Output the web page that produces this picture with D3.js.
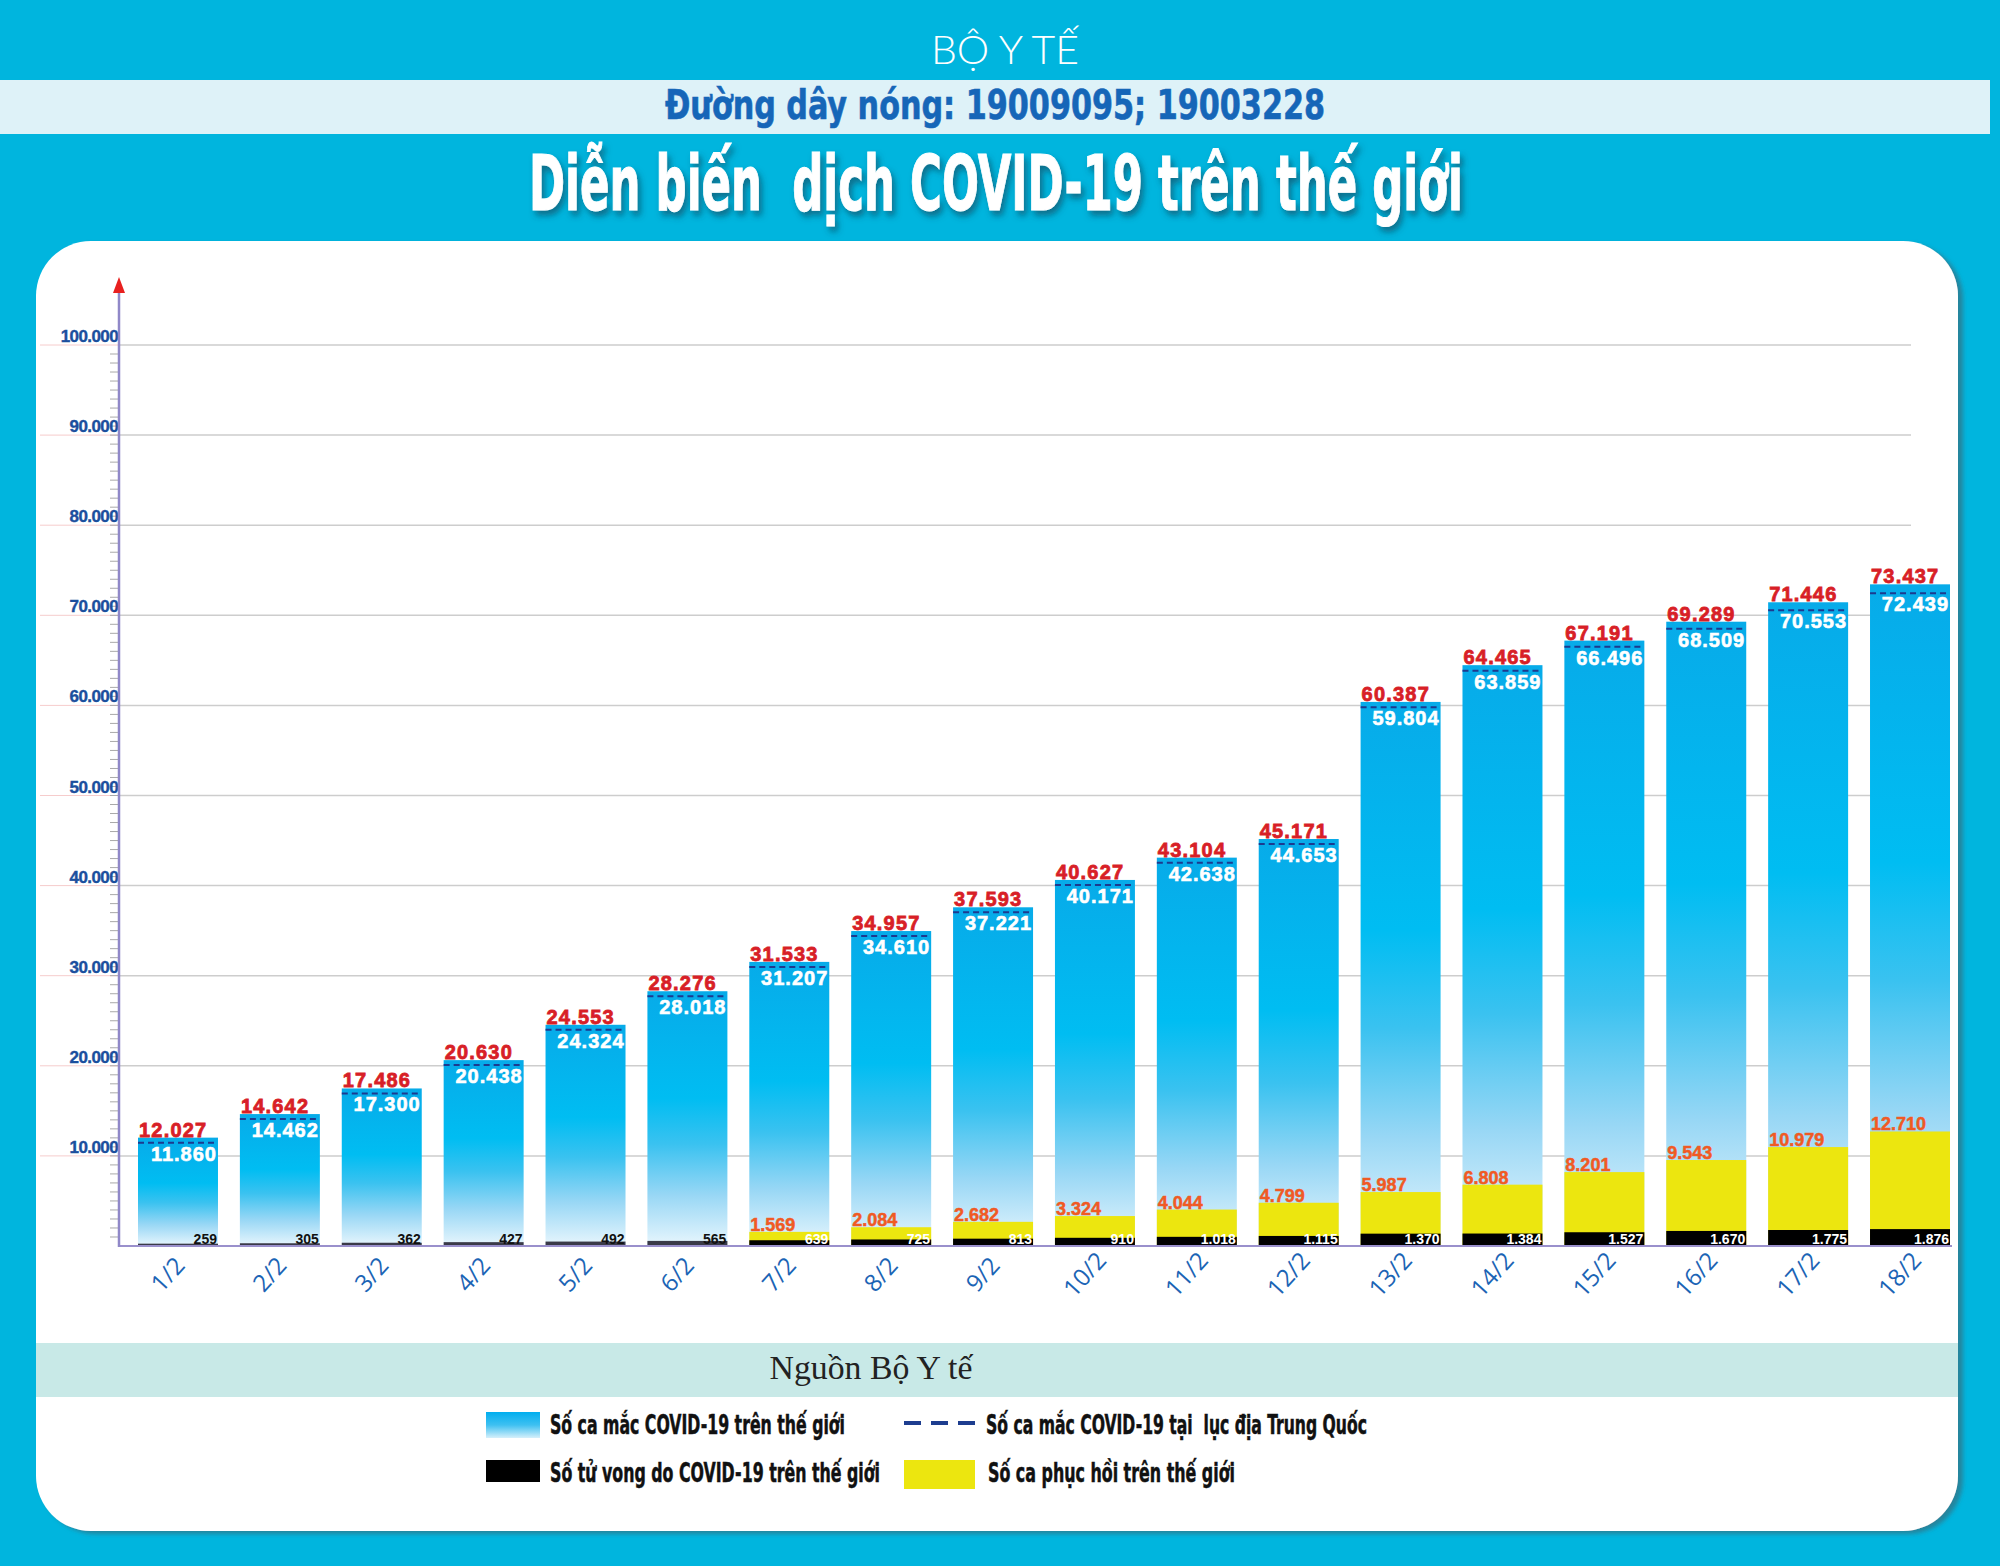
<!DOCTYPE html>
<html lang="vi">
<head>
<meta charset="UTF-8">
<title>Diễn biến dịch COVID-19 trên thế giới</title>
<style>
  body { margin: 0; background: #00b5de; }
  svg { display: block; }
  text { white-space: pre; }
</style>
</head>
<body>
<svg id="chart" width="2000" height="1566"></svg>
<script src="https://d3js.org/d3.v7.min.js"></script>
<script>
// ---- data ----
const dates = ["1/2","2/2","3/2","4/2","5/2","6/2","7/2","8/2","9/2","10/2","11/2","12/2","13/2","14/2","15/2","16/2","17/2","18/2"];
const worldCases = [12027,14642,17486,20630,24553,28276,31533,34957,37593,40627,43104,45171,60387,64465,67191,69289,71446,73437];
const chinaCases = [11860,14462,17300,20438,24324,28018,31207,34610,37221,40171,42638,44653,59804,63859,66496,68509,70553,72439];
const deaths = [259,305,362,427,492,565,639,725,813,910,1018,1115,1370,1384,1527,1670,1775,1876];
const recovered = [0,0,0,0,0,0,1569,2084,2682,3324,4044,4799,5987,6808,8201,9543,10979,12710];
const yTicks = [10000,20000,30000,40000,50000,60000,70000,80000,90000,100000];

const legendItems = [
  { key: "world", label: "Số ca mắc COVID-19 trên thế giới" },
  { key: "china", label: "Số ca mắc COVID-19 tại  lục địa Trung Quốc" },
  { key: "deaths", label: "Số tử vong do COVID-19 trên thế giới" },
  { key: "recovered", label: "Số ca phục hồi trên thế giới" }
];

const rows = dates.map((d, i) => ({
  date: d, world: worldCases[i], china: chinaCases[i], deaths: deaths[i], recovered: recovered[i]
}));

const vn = d3.formatLocale({ decimal: ",", thousands: ".", grouping: [3], currency: ["", ""] });
const fmt = vn.format(",d");

const narrow = "'Liberation Sans Narrow','Arial Narrow','DejaVu Sans Condensed','Liberation Sans',sans-serif";
const arial = "'Liberation Sans',Arial,sans-serif";

const svg = d3.select("#chart");
const defs = svg.append("defs");

// bar gradient
const bg = defs.append("linearGradient").attr("id", "barGrad")
  .attr("x1", 0).attr("y1", 0).attr("x2", 0).attr("y2", 1);
[[0, "#07abe9"], [0.42, "#00bdf2"], [0.6, "#3ac2f0"], [0.8, "#98d7f5"], [1, "#e8f6fd"]]
  .forEach(s => bg.append("stop").attr("offset", s[0]).attr("stop-color", s[1]));

const lg = defs.append("linearGradient").attr("id", "legGrad")
  .attr("x1", 0).attr("y1", 0).attr("x2", 0).attr("y2", 1);
[[0, "#00aeef"], [0.5, "#3ec0f1"], [1, "#d6f0fb"]]
  .forEach(s => lg.append("stop").attr("offset", s[0]).attr("stop-color", s[1]));

defs.append("filter").attr("id", "titleShadow").attr("x", "-5%").attr("y", "-20%").attr("width", "110%").attr("height", "160%")
  .append("feDropShadow").attr("dx", 3).attr("dy", 5).attr("stdDeviation", 3)
  .attr("flood-color", "#173f55").attr("flood-opacity", 0.6);

defs.append("filter").attr("id", "panelShadow").attr("x", "-2%").attr("y", "-2%").attr("width", "104%").attr("height", "104%")
  .append("feDropShadow").attr("dx", 5).attr("dy", 3).attr("stdDeviation", 2)
  .attr("flood-color", "#2a7f96").attr("flood-opacity", 0.9);

// ---- header ----
svg.append("rect").attr("width", 2000).attr("height", 1566).attr("fill", "#00b5de");

svg.append("text").attr("x", 931).attr("y", 64)
  .attr("textLength", 148).attr("lengthAdjust", "spacingAndGlyphs")
  .style("font-family", "Lato,'Open Sans',sans-serif").style("font-weight", 300)
  .style("font-size", "40px").attr("fill", "#fff").text("BỘ Y TẾ");

svg.append("rect").attr("x", 0).attr("y", 80).attr("width", 1990).attr("height", 54).attr("fill", "#def2f8");
svg.append("text").attr("x", 665).attr("y", 119)
  .attr("textLength", 660).attr("lengthAdjust", "spacingAndGlyphs")
  .style("font-family", narrow).style("font-weight", 700).style("font-size", "40px")
  .attr("fill", "#1666b8").attr("stroke", "#1666b8").attr("stroke-width", 0.6)
  .text("Đường dây nóng: 19009095; 19003228");

svg.append("text").attr("x", 529).attr("y", 210)
  .attr("textLength", 934).attr("lengthAdjust", "spacingAndGlyphs")
  .attr("filter", "url(#titleShadow)")
  .style("font-family", narrow).style("font-weight", 700).style("font-size", "76px")
  .attr("fill", "#fff").attr("stroke", "#fff").attr("stroke-width", 1)
  .text("Diễn biến  dịch COVID-19 trên thế giới");

// white panel
svg.append("rect").attr("x", 36).attr("y", 241).attr("width", 1922).attr("height", 1290)
  .attr("rx", 55).attr("fill", "#fff").attr("filter", "url(#panelShadow)");

// ---- chart ----
const y = d3.scaleLinear().domain([0, 100000]).range([1246, 345]);
const x = d3.scaleBand().domain(dates).range([138, 1950]).paddingInner(0.215).paddingOuter(0);
const axisX = 119;

// gridlines
const grid = svg.append("g");
grid.selectAll("line.g").data(yTicks).join("line")
  .attr("x1", axisX).attr("x2", 1911).attr("y1", d => y(d)).attr("y2", d => y(d))
  .attr("stroke", "#cdcdcd").attr("stroke-width", 1.5);
grid.selectAll("line.p").data(yTicks).join("line")
  .attr("x1", 40).attr("x2", axisX).attr("y1", d => y(d)).attr("y2", d => y(d))
  .attr("stroke", "#f6cccc").attr("stroke-width", 1);

// minor ticks every 1000
const minor = d3.range(1000, 100000, 1000);
svg.append("g").selectAll("line").data(minor).join("line")
  .attr("x1", axisX - 9).attr("x2", axisX).attr("y1", d => y(d)).attr("y2", d => y(d))
  .attr("stroke", "#a9a9a9").attr("stroke-width", 1);

// tick labels
svg.append("g").selectAll("text").data(yTicks).join("text")
  .attr("x", 118).attr("y", d => y(d) - 3).attr("text-anchor", "end")
  .style("font-family", arial).style("font-weight", 700).style("font-size", "17px")
  .style("letter-spacing", "-0.6px").attr("fill", "#1b4f9e")
  .attr("stroke", "#1b4f9e").attr("stroke-width", 0.4).text(d => fmt(d));

// bars
const bars = svg.append("g").selectAll("g").data(rows).join("g");

bars.append("rect")
  .attr("x", d => x(d.date)).attr("width", x.bandwidth())
  .attr("y", d => y(d.world)).attr("height", d => y(0) - y(d.world))
  .attr("fill", "url(#barGrad)");

bars.append("line")
  .attr("x1", d => x(d.date)).attr("x2", d => x(d.date) + x.bandwidth())
  .attr("y1", d => Math.max(y(d.china), y(d.world) + 5))
  .attr("y2", d => Math.max(y(d.china), y(d.world) + 5))
  .attr("stroke", "#1d3a8f").attr("stroke-width", 2).attr("stroke-dasharray", "6 4");

bars.filter(d => d.recovered > 0).append("rect")
  .attr("x", d => x(d.date)).attr("width", x.bandwidth())
  .attr("y", d => y(d.recovered)).attr("height", d => y(0) - y(d.recovered))
  .attr("fill", "#ece60f");

bars.append("rect")
  .attr("x", d => x(d.date)).attr("width", x.bandwidth())
  .attr("y", d => y(d.deaths)).attr("height", d => y(0) - y(d.deaths))
  .attr("fill", d => d.deaths > 600 ? "#000" : "#3a3a48");

// labels
bars.append("text")
  .attr("x", d => x(d.date) + 1).attr("y", d => y(d.world) - 1)
  .style("font-family", arial).style("font-weight", 700).style("font-size", "20px")
  .style("letter-spacing", "1.2px").attr("fill", "#d81f27")
  .attr("stroke", "#d81f27").attr("stroke-width", 0.8).text(d => fmt(d.world));

bars.append("text")
  .attr("x", d => x(d.date) + x.bandwidth() - 1)
  .attr("y", d => Math.max(y(d.china), y(d.world) + 5) + 18)
  .attr("text-anchor", "end")
  .style("font-family", arial).style("font-weight", 700).style("font-size", "20px")
  .style("letter-spacing", "1px").attr("fill", "#fff")
  .attr("stroke", "#fff").attr("stroke-width", 0.6).text(d => fmt(d.china));

bars.filter(d => d.recovered > 0).append("text")
  .attr("x", d => x(d.date) + 1).attr("y", d => y(d.recovered) - 1)
  .style("font-family", arial).style("font-weight", 700).style("font-size", "18px")
  .attr("fill", "#f05a24").attr("stroke", "#f05a24").attr("stroke-width", 0.5)
  .text(d => fmt(d.recovered));

bars.append("text")
  .attr("x", d => x(d.date) + x.bandwidth() - 1).attr("y", y(0) - 2)
  .attr("text-anchor", "end")
  .style("font-family", arial).style("font-weight", 700).style("font-size", "14px")
  .attr("fill", d => d.deaths > 600 ? "#fff" : "#111").text(d => fmt(d.deaths));

// axes lines
svg.append("line").attr("x1", axisX).attr("x2", 1952).attr("y1", y(0)).attr("y2", y(0))
  .attr("stroke", "#9a90cc").attr("stroke-width", 2);
svg.append("line").attr("x1", axisX).attr("x2", axisX).attr("y1", y(0) + 1).attr("y2", 288)
  .attr("stroke", "#9088c8").attr("stroke-width", 2.5);
svg.append("path").attr("d", `M${axisX},277 L${axisX - 6},293 L${axisX + 6},293 Z`).attr("fill", "#e8201f");

// x labels
svg.append("g").selectAll("text").data(dates).join("text")
  .attr("transform", d => `translate(${x(d) + x.bandwidth() / 2 - 4},1280) rotate(-48)`)
  .attr("text-anchor", "middle")
  .style("font-family", "'Open Sans','Liberation Sans',sans-serif").style("font-size", "24px")
  .attr("fill", "#1b64b5").text(d => d);

// ---- source band ----
svg.append("rect").attr("x", 36).attr("y", 1343).attr("width", 1922).attr("height", 54).attr("fill", "#c8e9e7");
svg.append("text").attr("x", 871).attr("y", 1379).attr("text-anchor", "middle")
  .attr("textLength", 203).attr("lengthAdjust", "spacingAndGlyphs")
  .style("font-family", "'Liberation Serif','Times New Roman',serif").style("font-size", "34px")
  .attr("fill", "#222").text("Nguồn Bộ Y tế");

// ---- legend ----
const legPos = {
  world: { sx: 486, sy: 1412, sw: 54, sh: 26, tx: 550, ty: 1434, tl: 295 },
  china: { sx: 904, sy: 1423, sw: 72, sh: 0, tx: 986, ty: 1434, tl: 381 },
  deaths: { sx: 486, sy: 1460, sw: 54, sh: 22, tx: 550, ty: 1482, tl: 330 },
  recovered: { sx: 904, sy: 1460, sw: 71, sh: 29, tx: 988, ty: 1482, tl: 247 }
};
const legFill = { world: "url(#legGrad)", deaths: "#000", recovered: "#ece60f" };

const leg = svg.append("g").selectAll("g").data(legendItems).join("g");
leg.each(function (d) {
  const g = d3.select(this), p = legPos[d.key];
  if (d.key === "china") {
    g.append("line").attr("x1", p.sx).attr("x2", p.sx + p.sw).attr("y1", p.sy).attr("y2", p.sy)
      .attr("stroke", "#1d3d8f").attr("stroke-width", 4).attr("stroke-dasharray", "17 10");
  } else {
    g.append("rect").attr("x", p.sx).attr("y", p.sy).attr("width", p.sw).attr("height", p.sh)
      .attr("fill", legFill[d.key]);
  }
  g.append("text").attr("x", p.tx).attr("y", p.ty)
    .attr("textLength", p.tl).attr("lengthAdjust", "spacingAndGlyphs")
    .style("font-family", narrow).style("font-weight", 700).style("font-size", "26px")
    .attr("fill", "#111").attr("stroke", "#111").attr("stroke-width", 0.5).text(d.label);
});
</script>
</body>
</html>
